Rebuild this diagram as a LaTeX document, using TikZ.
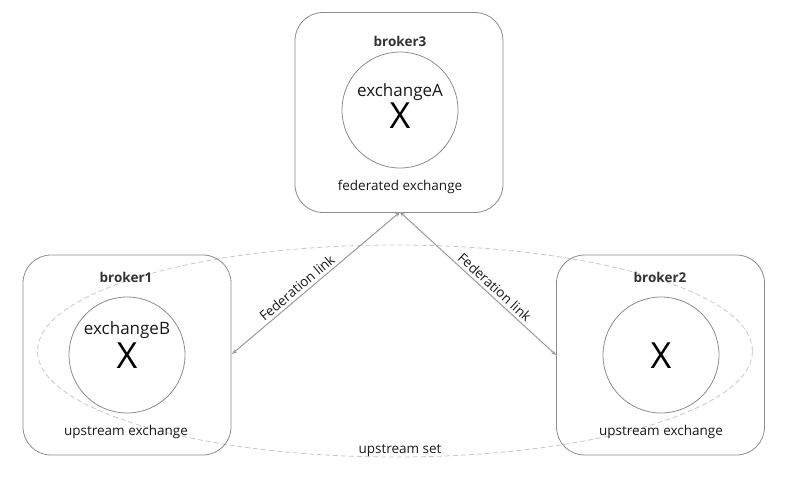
\documentclass[tikz,border=0pt]{standalone}
\usepackage{fontspec}
\setmainfont{Open Sans}
\usetikzlibrary{arrows.meta,shapes.geometric}
\definecolor{boxgray}{HTML}{8C8C8C}
\definecolor{setgray}{HTML}{C8C8C8}
\definecolor{linkgray}{HTML}{9A9A9A}
\begin{document}
\begin{tikzpicture}[x=1pt,y=-1pt,
  brokerbox/.style={draw=boxgray,line width=0.8pt,rounded corners=28pt,minimum width=208pt,minimum height=200pt,inner sep=0pt},
  exch/.style={draw=boxgray,line width=0.8pt,circle,minimum size=116pt,inner sep=0pt},
  blabel/.style={font=\fontsize{13.5}{15}\selectfont\bfseries,text=black!80},
  txt/.style={font=\fontsize{13.5}{15}\selectfont,text=black!90},
  big/.style={font=\fontsize{17}{20}\selectfont,text=black!90},
  xmark/.style={font=\fontsize{36}{40}\selectfont,text=black},
  link/.style={draw=linkgray,line width=1pt,{Stealth[length=5pt,width=4pt]}-{Stealth[length=5pt,width=4pt]}},
]
\useasboundingbox (0,0) rectangle (794,477);
% upstream set ellipse
\node (set) [draw=setgray,dashed,dash pattern=on 5pt off 3pt,line width=0.8pt,ellipse,minimum width=715pt,minimum height=212pt,inner sep=0pt] at (395,351) {};
% brokers
\node (b3) [brokerbox] at (399,112.5) {};
\node (b1) [brokerbox] at (127,355) {};
\node (b2) [brokerbox] at (660.5,355) {};
% exchanges
\node (e3) [exch] at (400,110) {};
\node (e1) [exch] at (127,355) {};
\node (e2) [exch] at (661,355) {};
% labels
\node (l3) [blabel] at (400,41) {broker3};
\node (l1) [blabel] at (126,277) {broker1};
\node (l2) [blabel] at (660,277) {broker2};
\node (n3) [big] at (400,92) {exchangeA};
\node (n1) [big] at (127,330) {exchangeB};
\node (x3) [xmark] at (400,116) {X};
\node (x1) [xmark] at (127,356) {X};
\node (x2) [xmark] at (661,356) {X};
\node (t3) [txt] at (400,187) {federated exchange};
\node (t1) [txt] at (126,432) {upstream exchange};
\node (t2) [txt] at (661,432) {upstream exchange};
\node (us) [txt] at (400,451) {upstream set};
% links
\coordinate (top) at (400,212);
\coordinate (lft) at (232,354);
\coordinate (rgt) at (556,355);
\draw[link] (lft) -- (top) node[pos=0.42,sloped,above,txt,inner sep=3pt] {Federation link};
\draw[link] (top) -- (rgt) node[pos=0.57,sloped,above,txt,inner sep=3pt] {Federation link};
\end{tikzpicture}
\end{document}
